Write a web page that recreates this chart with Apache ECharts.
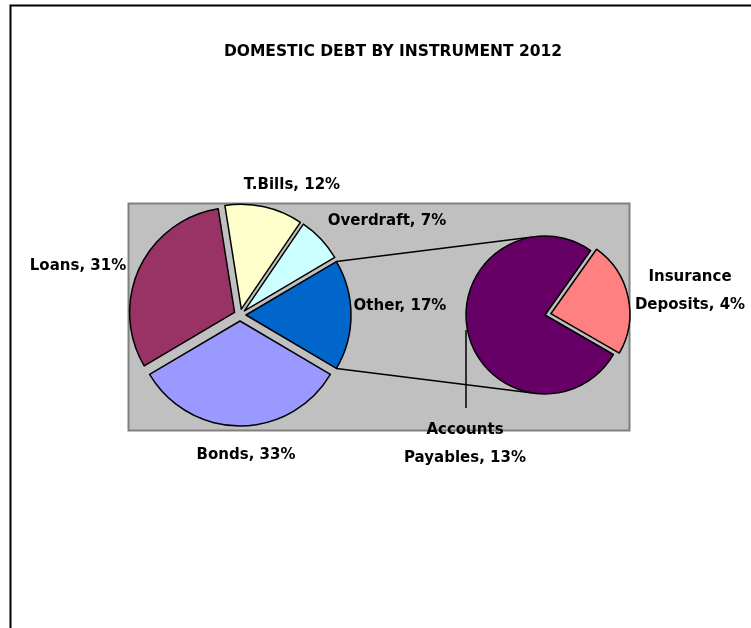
<!DOCTYPE html>
<html>
<head>
<meta charset="utf-8">
<title>Domestic debt by instrument 2012</title>
<script src="https://cdn.jsdelivr.net/npm/echarts@6/dist/echarts.min.js"></script>
<style>
  html, body { margin: 0; padding: 0; background: #fff; }
  #debt-chart { width: 751px; height: 628px; }
</style>
</head>
<body>
<div id="debt-chart"></div>
<script type="text/javascript">
// data (percent of domestic debt)
var mainNames  = ['Other', 'Overdraft', 'T.Bills', 'Loans', 'Bonds'];
var mainValues = [17, 7, 12, 31, 33];
var mainColors = ['#0066CC', '#CCFFFF', '#FFFFCC', '#993366', '#9999FF'];

// "Other" broken down in the small pie
var subNames  = ['Insurance Deposits', 'Accounts Payables'];
var subValues = [4, 13];
var subColors = ['#FF8080', '#660066'];

// layout
var mainCenter = [240, 315], mainR = 105;
var subCenter  = [545, 315], subR  = 79;
var explode = 6;
// label centres, same order as the names above
var mainLabelPos = [[400, 306], [387, 221], [292, 185], [78, 266], [246, 455]];
var subLabelPos  = [[690, 291], [465, 444]];

var myChart = echarts.init(document.getElementById('debt-chart'));

// half angle of the "Other" slice -> where the connector lines start
var total = mainValues.reduce(function (a, b) { return a + b; }, 0);
var half = mainValues[0] / total * Math.PI; // radians
var rad = Math.PI / 180;
var p1 = [mainCenter[0] + explode + mainR * Math.cos(half), mainCenter[1] - mainR * Math.sin(half)];
var p2 = [mainCenter[0] + explode + mainR * Math.cos(half), mainCenter[1] + mainR * Math.sin(half)];
var q1 = [subCenter[0] + subR * Math.cos(99 * rad), subCenter[1] - subR * Math.sin(99 * rad)];
var q2 = [subCenter[0] + subR * Math.cos(99 * rad), subCenter[1] + subR * Math.sin(99 * rad)];

var labelFont = {
    fontFamily: 'DejaVu Sans',
    fontWeight: 'bold',
    fontSize: 15,
    color: '#000',
    lineHeight: 28
};

function makeData(names, values, colors, selectedIdx) {
    return names.map(function (n, i) {
        return {
            name: n,
            value: values[i],
            selected: selectedIdx.indexOf(i) > -1,
            itemStyle: { color: colors[i] }
        };
    });
}

// the coloured slices (exploded through select state), no labels
function slicesSeries(center, r, start, names, values, colors, sel, mode, offset) {
    return {
        type: 'pie',
        center: center,
        radius: [0, r],
        clockwise: false,
        startAngle: start,
        selectedMode: mode,
        selectedOffset: offset,
        emphasis: { disabled: true },
        itemStyle: { borderColor: '#000', borderWidth: 1.5 },
        select: { itemStyle: { borderColor: '#000', borderWidth: 1.5 } },
        label: { show: false },
        labelLine: { show: false },
        data: makeData(names, values, colors, sel)
    };
}

// same slices again, invisible, only to carry the labels
function labelSeries(center, r, start, names, values, pos, formatter, lineIdx) {
    return {
        type: 'pie',
        silent: true,
        z: 3,
        center: center,
        radius: [0, r],
        clockwise: false,
        startAngle: start,
        avoidLabelOverlap: false,
        emphasis: { disabled: true },
        itemStyle: { color: 'rgba(0,0,0,0)', borderWidth: 0 },
        label: Object.assign({ formatter: formatter }, labelFont),
        labelLine: { show: false, lineStyle: { color: '#000', width: 1.5 } },
        labelLayout: function (params) {
            var p = pos[params.dataIndex];
            var out = { x: p[0], y: p[1], align: 'center', verticalAlign: 'middle' };
            if (params.dataIndex === lineIdx) {
                // leader line from the left edge of the small pie down to the label
                out.labelLinePoints = [
                    [center[0] - r, center[1] + 15],
                    [center[0] - r, p[1] - 36],
                    [center[0] - r, p[1] - 36]
                ];
            }
            return out;
        },
        data: names.map(function (n, i) {
            var d = { name: n, value: values[i] };
            if (i === lineIdx) d.labelLine = { show: true };
            return d;
        })
    };
}

var mainStart = -mainValues[0] / total * 180;
var subStart = -30;

var option = {
    animation: false,
    title: {
        text: 'DOMESTIC DEBT BY INSTRUMENT 2012',
        left: 388,
        top: 39,
        textAlign: 'center',
        textStyle: {
            fontFamily: 'DejaVu Sans',
            fontWeight: 'bold',
            fontSize: 15.5,
            color: '#000'
        }
    },
    graphic: [
        { // outer frame
            type: 'rect',
            z: 0,
            shape: { x: 10.5, y: 5.5, width: 800, height: 700 },
            style: { fill: 'none', stroke: '#000', lineWidth: 2 }
        },
        { // plot area
            type: 'rect',
            z: 0,
            shape: { x: 128.5, y: 203.5, width: 501, height: 227 },
            style: { fill: '#C0C0C0', stroke: '#808080', lineWidth: 2 }
        },
        {
            type: 'line',
            z: 1,
            shape: { x1: p1[0], y1: p1[1], x2: q1[0], y2: q1[1] },
            style: { stroke: '#000', lineWidth: 1.5 }
        },
        {
            type: 'line',
            z: 1,
            shape: { x1: p2[0], y1: p2[1], x2: q2[0], y2: q2[1] },
            style: { stroke: '#000', lineWidth: 1.5 }
        }
    ],
    series: [
        slicesSeries(mainCenter, mainR, mainStart, mainNames, mainValues, mainColors,
            [0, 1, 2, 3, 4], 'multiple', explode),
        slicesSeries(subCenter, subR, subStart, subNames, subValues, subColors,
            [0], 'single', 6),
        labelSeries(mainCenter, mainR, mainStart, mainNames, mainValues, mainLabelPos,
            '{b}, {c}%', -1),
        labelSeries(subCenter, subR, subStart, subNames, subValues, subLabelPos,
            function (p) { return p.name.replace(' ', '\n') + ', ' + p.value + '%'; }, 1)
    ]
};

myChart.setOption(option);
</script>
</body>
</html>
